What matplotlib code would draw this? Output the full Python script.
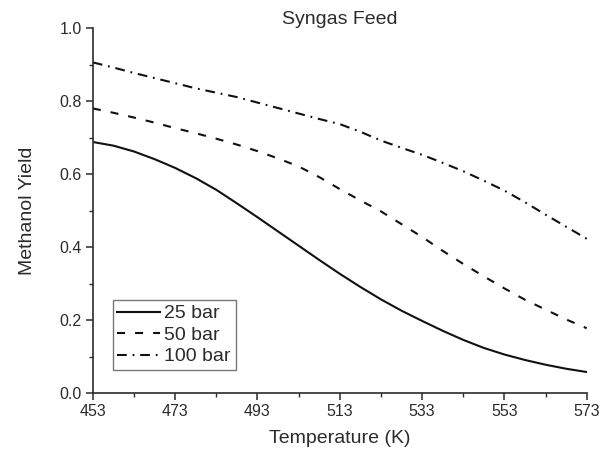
import matplotlib

matplotlib.use("Agg")

import matplotlib.pyplot as plt
from matplotlib.ticker import FixedLocator, FormatStrFormatter, MultipleLocator

plt.rcParams["font.family"] = ["Liberation Sans", "DejaVu Sans"]
plt.rcParams["lines.scale_dashes"] = False

temperature = [453, 458, 463, 468, 473, 478, 483, 488, 493, 498, 503, 508, 513,
               518, 523, 528, 533, 538, 543, 548, 553, 558, 563, 568, 573]
yield_25bar = [0.688, 0.678, 0.662, 0.641, 0.617, 0.589, 0.557, 0.520, 0.482, 0.443,
               0.404, 0.365, 0.327, 0.291, 0.257, 0.226, 0.198, 0.171, 0.146, 0.124,
               0.106, 0.091, 0.078, 0.067, 0.058]
yield_50bar = [0.780, 0.768, 0.755, 0.741, 0.726, 0.712, 0.697, 0.681, 0.663, 0.643,
               0.621, 0.592, 0.559, 0.528, 0.498, 0.463, 0.428, 0.390, 0.354, 0.320,
               0.287, 0.256, 0.229, 0.202, 0.178]
yield_100bar = [0.906, 0.892, 0.877, 0.863, 0.849, 0.835, 0.823, 0.811, 0.796, 0.781,
                0.766, 0.751, 0.737, 0.716, 0.692, 0.672, 0.653, 0.631, 0.608, 0.582,
                0.555, 0.523, 0.489, 0.456, 0.423]
series_labels = ["25 bar", "50 bar", "100 bar"]
x_ticks = [453, 473, 493, 513, 533, 553, 573]
x_minor_ticks = [463, 483, 503, 523, 543, 563]

text_color = "#2b2b2b"
line_color = "#111111"

fig = plt.figure(figsize=(6.03, 4.53), dpi=100)
ax = fig.add_axes([0.154, 0.132, 0.819, 0.806])

ax.plot(temperature, yield_25bar, color=line_color, lw=1.5, ls="-", label=series_labels[0])
ax.plot(temperature, yield_50bar, color=line_color, lw=1.5, ls=(0, (5.8, 7.2)),
        label=series_labels[1])
ax.plot(temperature, yield_100bar, color=line_color, lw=1.5,
        ls=(0, (7.0, 4.2, 1.3, 4.2)), label=series_labels[2])

ax.set_xlim(453, 573)
ax.set_ylim(0.0, 1.0)
ax.xaxis.set_major_locator(FixedLocator(x_ticks))
ax.xaxis.set_minor_locator(FixedLocator(x_minor_ticks))
ax.yaxis.set_major_locator(MultipleLocator(0.2))
ax.yaxis.set_minor_locator(MultipleLocator(0.1))
ax.yaxis.set_major_formatter(FormatStrFormatter("%.1f"))

for side in ("top", "right"):
    ax.spines[side].set_visible(False)
for side in ("left", "bottom"):
    ax.spines[side].set_linewidth(1.2)
    ax.spines[side].set_color(text_color)

ax.tick_params(which="major", direction="out", length=5, width=1.1, colors=text_color,
               labelsize=11.5, pad=3)
ax.tick_params(which="minor", direction="out", length=3, width=1.0, colors=text_color)

ax.set_xlabel("Temperature (K)", fontsize=14, color=text_color, labelpad=8)
ax.set_ylabel("Methanol Yield", fontsize=14, color=text_color, labelpad=17)
ax.set_title("Syngas Feed", fontsize=14, color=text_color, pad=3)

leg = ax.legend(loc="lower left", bbox_to_anchor=(0.04, 0.063), fontsize=14,
                frameon=True, fancybox=False, handlelength=2.2, handletextpad=0.2,
                labelspacing=0.2, borderpad=0.25, borderaxespad=0.0)
leg.get_frame().set_edgecolor("#555555")
leg.get_frame().set_linewidth(1.0)
for t in leg.get_texts():
    t.set_color(text_color)

fig.savefig("out.png", dpi=100, facecolor="white")
